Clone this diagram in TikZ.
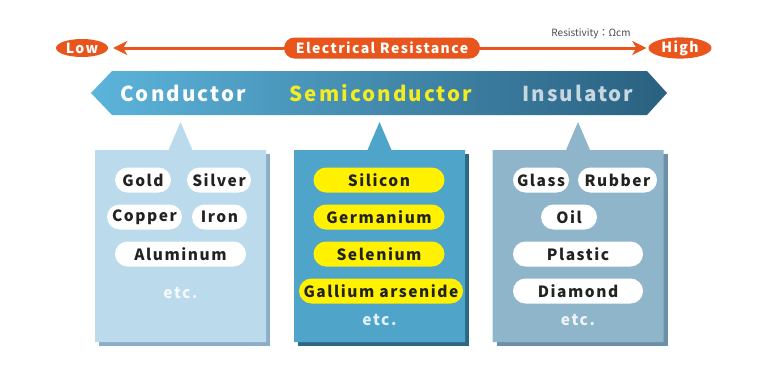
\documentclass[tikz,border=0pt]{standalone}
\usepackage{fontspec}
\setmainfont{Noto Sans CJK JP}
\newfontfamily\scspaced{Noto Sans CJK JP}[LetterSpace=10]
\usepackage{xcolor}
\usepackage{tikz}
\usetikzlibrary{arrows.meta,positioning,shapes.geometric}
\definecolor{scOrange}{HTML}{E9561D}
\definecolor{scInk}{HTML}{222222}
\definecolor{scGray}{HTML}{4A4A4A}
\definecolor{scBandL}{HTML}{5CB4DB}
\definecolor{scBandR}{HTML}{2A6080}
\definecolor{scYellow}{HTML}{FFF100}
\definecolor{scYellowText}{HTML}{F3EC22}
\definecolor{scInsText}{HTML}{C6D7E1}
\definecolor{scCondBox}{HTML}{BBDAEB}
\definecolor{scCondShade}{HTML}{8AAEC6}
\definecolor{scSemiBox}{HTML}{4FA4CA}
\definecolor{scSemiShade}{HTML}{2C6886}
\definecolor{scInsBox}{HTML}{8FB5CB}
\definecolor{scInsShade}{HTML}{6B90A8}
\tikzset{
  sc diagram/.style={line join=round, line cap=round},
  sc tag/.style={fill=scOrange, text=white, inner sep=0pt,
    font=\scspaced\bfseries\fontsize{14}{14}\selectfont},
  sc oval/.style={sc tag, ellipse},
  sc bar/.style={sc tag, rounded corners=10.5pt, minimum height=21pt},
  sc arrow/.style={draw=scOrange, line width=3pt,
    -{Stealth[length=14pt,width=14pt,inset=4pt]}},
  sc band text/.style={font=\scspaced\bfseries\fontsize{20.5}{20.5}\selectfont},
  sc pill/.style={fill=white, text=scInk, rounded corners=12.5pt,
    minimum height=25pt, inner sep=0pt,
    font=\scspaced\bfseries\fontsize{15.5}{15.5}\selectfont},
  sc semi pill/.style={sc pill, fill=scYellow},
  sc etc/.style={font=\scspaced\bfseries\fontsize{15.5}{15.5}\selectfont}
}
\begin{document}
\begin{tikzpicture}[sc diagram,x=1pt,y=-1pt]
\useasboundingbox (0,0) rectangle (768,384);
% resistance scale
\node[sc oval,minimum width=52pt,minimum height=18pt] (low) at (82,48) {Low};
\node[sc oval,minimum width=63pt,minimum height=21pt] (high) at (680,48) {High};
\node[sc bar,minimum width=196pt] (resist) at (382,48) {Electrical Resistance};
\draw[sc arrow,shorten >=5pt] (resist) -- (low);
\draw[sc arrow,shorten >=2pt] (resist) -- (high);
\node[text=scGray,font=\fontsize{10}{10}\selectfont] (unit) at (591,34) {Resistivity：Ωcm};
% band
\shade[left color=scBandL,right color=scBandR]
  (91,93) -- (112,71) -- (647,71) -- (667,93) -- (647,115) -- (112,115) -- cycle;
\node[sc band text,text=white] (cond) at (183,93) {Conductor};
\node[sc band text,text=scYellowText] (semi) at (381,93) {Semiconductor};
\node[sc band text,text=scInsText] (ins) at (578,93) {Insulator};
% boxes
\foreach \cx/\boxc/\shadec in {180.5/scCondBox/scCondShade,379.5/scSemiBox/scSemiShade,578/scInsBox/scInsShade}{
  \fill[\shadec] (\cx-85.5+4,154) rectangle (\cx+85.5+4,346);
  \fill[\boxc] (\cx-85.5,150) -- (\cx-12,150) -- (\cx,122) -- (\cx+12,150)
    -- (\cx+85.5,150) -- (\cx+85.5,342) -- (\cx-85.5,342) -- cycle;
}
% conductor
\node[sc pill,minimum width=56pt] (gold) at (143,180) {Gold};
\node[sc pill,minimum width=64pt] (silver) at (219,180) {Silver};
\node[sc pill,minimum width=75pt] (copper) at (144.5,217) {Copper};
\node[sc pill,minimum width=55pt] (iron) at (219.5,217) {Iron};
\node[sc pill,minimum width=131pt] (aluminum) at (180.5,254) {Aluminum};
\node[sc etc,text=white!85!scCondBox] (condetc) at (180.5,293) {etc.};
% semiconductor
\foreach \y/\name/\txt in {180/silicon/Silicon,217/germanium/Germanium,254/selenium/Selenium}
  \node[sc semi pill,minimum width=131pt] (\name) at (379,\y) {\txt};
\node[sc semi pill,minimum width=164pt] (gaas) at (381,291) {Gallium arsenide};
\node[sc etc,text=white!85!scSemiBox] (semietc) at (379.5,320) {etc.};
% insulator
\node[sc pill,minimum width=56pt] (glass) at (541,180) {Glass};
\node[sc pill,minimum width=79pt] (rubber) at (617.5,180) {Rubber};
\node[sc pill,minimum width=56pt] (oil) at (569,217) {Oil};
\node[sc pill,minimum width=130pt] (plastic) at (578,254) {Plastic};
\node[sc pill,minimum width=130pt] (diamond) at (578,291) {Diamond};
\node[sc etc,text=white!85!scInsBox] (insetc) at (578,320) {etc.};
\end{tikzpicture}
\end{document}
